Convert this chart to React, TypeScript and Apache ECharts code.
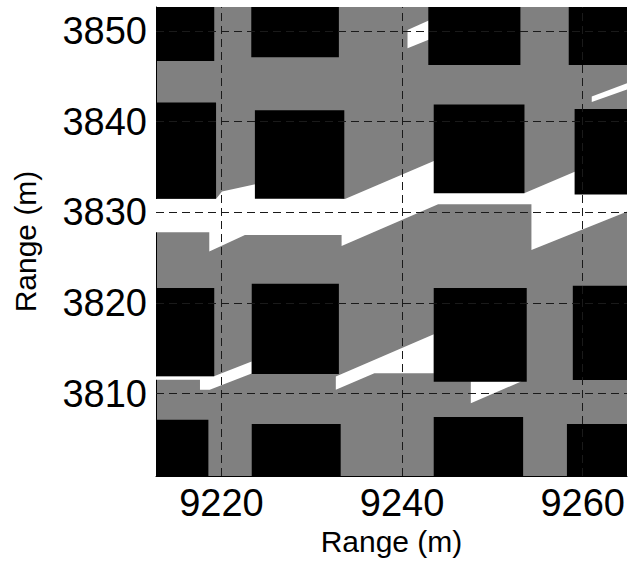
import React, { useEffect, useRef } from "react";
import * as echarts from "echarts";

const X_MIN = 9212.75;
const X_MAX = 9264.9;
const Y_MIN = 3800.9;
const Y_MAX = 3852.65;

const xTicks = [9220, 9240, 9260];
const yTicks = [3810, 3820, 3830, 3840, 3850];

// buildings: [xLeft, yBottom, xRight, yTop]
const buildings: number[][] = [
  [9210, 3846.7, 9219.2, 3855],
  [9223.3, 3847.1, 9233.0, 3855],
  [9242.9, 3846.25, 9253.1, 3855],
  [9258.45, 3846.25, 9270, 3855],
  [9210, 3831.5, 9219.4, 3842.1],
  [9223.7, 3831.5, 9233.6, 3841.25],
  [9243.5, 3832.1, 9253.55, 3841.9],
  [9259.1, 3831.95, 9270, 3841.4],
  [9210, 3811.9, 9219.2, 3821.65],
  [9223.35, 3812.15, 9233.0, 3822.1],
  [9243.5, 3811.3, 9253.8, 3821.65],
  [9258.9, 3811.5, 9270, 3821.9],
  [9210, 3795, 9218.55, 3807.1],
  [9223.35, 3795, 9233.2, 3806.65],
  [9243.5, 3795, 9253.4, 3807.4],
  [9258.25, 3795, 9270, 3806.65],
];

// visible (white) areas, polygon vertices [x, y]
const mainBand: number[][] = [
  [9210, 3831.47], [9219.39, 3831.47], [9220.06, 3832.3], [9223.74, 3833.09],
  [9233.67, 3831.47], [9243.51, 3835.66], [9253.58, 3832.13], [9259.11, 3834.48],
  [9270, 3834.48], [9270, 3832.1], [9264.87, 3830.07], [9254.32, 3825.85],
  [9254.32, 3830.89], [9243.99, 3830.89], [9233.3, 3826.29], [9233.3, 3827.5],
  [9222.6, 3827.5], [9218.65, 3825.66], [9218.65, 3827.8], [9210, 3827.8],
];
const lowerLeft: number[][] = [
  [9210, 3811.92], [9219.17, 3811.92], [9223.34, 3813.53], [9223.34, 3812.2],
  [9218.7, 3810.41], [9217.62, 3810.41], [9217.62, 3811.51], [9210, 3811.51],
];
const lowerMid: number[][] = [
  [9232.66, 3811.87], [9243.51, 3816.53], [9243.51, 3812.25], [9236.93, 3812.25],
  [9232.66, 3810.41],
];
const underM: number[][] = [
  [9247.61, 3811.35], [9253.25, 3811.35], [9247.61, 3808.94],
];
const topSmall: number[][] = [
  [9240.6, 3850.11], [9243.07, 3851.21], [9243.07, 3849.08], [9240.6, 3848.09],
];
const rightStreak: number[][] = [
  [9261.0, 3842.78], [9265.5, 3844.45], [9265.5, 3843.75], [9261.0, 3842.17],
];
const whiteAreas = [mainBand, lowerLeft, lowerMid, underM, topSmall, rightStreak];

export default function App() {
  const ref = useRef<HTMLDivElement>(null);
  useEffect(() => {
    if (!ref.current) return;
    const chart = echarts.init(ref.current, null, { renderer: "svg" });
    const font = "'Liberation Sans', Arial, sans-serif";
    const clipOf = (params: any) => ({
      type: "rect",
      shape: {
        x: params.coordSys.x,
        y: params.coordSys.y,
        width: params.coordSys.width,
        height: params.coordSys.height,
      },
    });
    chart.setOption({
      animation: false,
      grid: {
        left: 156,
        right: 1,
        top: 7,
        bottom: 90,
        show: true,
        backgroundColor: "#808080",
        borderWidth: 0,
      },
      xAxis: {
        type: "value",
        min: X_MIN,
        max: X_MAX,
        name: "Range (m)",
        nameLocation: "middle",
        nameGap: 50,
        nameTextStyle: { fontFamily: font, fontSize: 30, fontWeight: "normal", color: "#000" },
        axisLine: { show: true, lineStyle: { color: "#000", width: 1 } },
        axisTick: { show: true, inside: true, length: 5, customValues: xTicks, lineStyle: { color: "#000" } },
        axisLabel: {
          customValues: xTicks,
          formatter: (v: number) => String(Math.round(v)),
          fontFamily: font,
          fontSize: 38,
          fontWeight: "normal",
          color: "#000",
          margin: 8,
        },
        splitLine: { show: false },
      },
      yAxis: {
        type: "value",
        min: Y_MIN,
        max: Y_MAX,
        name: "Range (m)",
        nameLocation: "middle",
        nameGap: 116,
        nameTextStyle: { fontFamily: font, fontSize: 30, fontWeight: "normal", color: "#000" },
        axisLine: { show: true, lineStyle: { color: "#000", width: 1 } },
        axisTick: { show: true, inside: true, length: 5, customValues: yTicks, lineStyle: { color: "#000" } },
        axisLabel: {
          customValues: yTicks,
          formatter: (v: number) => String(Math.round(v)),
          fontFamily: font,
          fontSize: 38,
          fontWeight: "normal",
          color: "#000",
          margin: 9,
        },
        splitLine: { show: false },
      },
      series: [
        {
          type: "custom",
          name: "visible",
          clip: true,
          data: whiteAreas.map((poly, i) => [poly[0][0], poly[0][1], i]),
          encode: { x: 0, y: 1 },
          renderItem: (params: any, api: any) => {
            const poly = whiteAreas[api.value(2)];
            const points = poly.map((p) => api.coord(p));
            return {
              type: "polygon",
              shape: { points },
              style: { fill: "#ffffff", stroke: "none" },
              clipPath: clipOf(params),
            };
          },
          z: 2,
        },
        {
          type: "custom",
          name: "buildings",
          clip: true,
          data: buildings,
          encode: { x: [0, 2], y: [1, 3] },
          renderItem: (params: any, api: any) => {
            const p1 = api.coord([api.value(0), api.value(3)]);
            const p2 = api.coord([api.value(2), api.value(1)]);
            return {
              type: "rect",
              shape: { x: p1[0], y: p1[1], width: p2[0] - p1[0], height: p2[1] - p1[1] },
              style: { fill: "#000000", stroke: "none" },
              clipPath: clipOf(params),
            };
          },
          markLine: {
            silent: true,
            symbol: ["none", "none"],
            label: { show: false },
            lineStyle: { color: "#1a1a1a", width: 1, type: [8, 5] },
            data: [
              ...xTicks.map((v) => ({ xAxis: v })),
              ...yTicks.map((v) => ({ yAxis: v })),
            ],
          },
          z: 3,
        },
      ],
    });
    return () => chart.dispose();
  }, []);
  return (
    <div
      ref={ref}
      style={{ position: "fixed", left: 0, top: 0, width: 628, height: 566, background: "#fff" }}
    />
  );
}
